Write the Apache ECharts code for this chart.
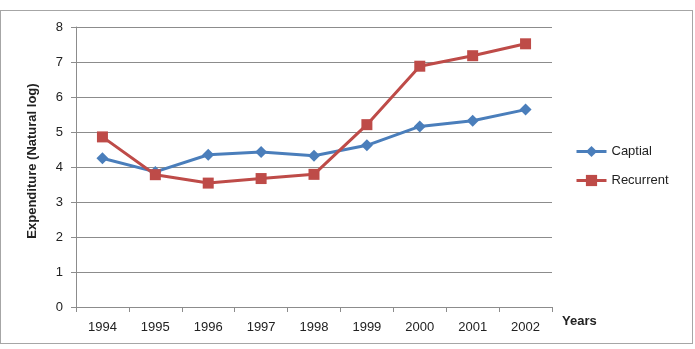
<!DOCTYPE html>
<html>
<head>
<meta charset="utf-8">
<script src="https://cdn.jsdelivr.net/npm/echarts@6/dist/echarts.min.js"></script>
<style>
  html, body { margin: 0; padding: 0; background: #fff; }
  #frame {
    position: absolute; left: 0; top: 10px; width: 693px; height: 334px;
    border: 1px solid #a6a6a6; box-sizing: border-box;
  }
  #chart { position: absolute; left: 0; top: 0; width: 695px; height: 349px; }
</style>
</head>
<body>
<div id="frame"></div>
<div id="chart"></div>
<script>
const years = ['1994', '1995', '1996', '1997', '1998', '1999', '2000', '2001', '2002'];
const capital = [4.25, 3.86, 4.35, 4.43, 4.32, 4.62, 5.16, 5.32, 5.64];
const recurrent = [4.86, 3.78, 3.54, 3.67, 3.79, 5.21, 6.88, 7.18, 7.52];

const FONT = '"Liberation Sans", "Open Sans", sans-serif';
const chart = echarts.init(document.getElementById('chart'), null, { renderer: 'canvas' });

chart.setOption({
  animation: false,
  textStyle: { fontFamily: FONT },
  grid: { left: 76, top: 27, width: 476, height: 280, containLabel: false },
  legend: {
    orient: 'vertical',
    left: 575,
    top: 145,
    padding: 0,
    itemWidth: 30,
    itemHeight: 14,
    itemGap: 16,
    lineStyle: { width: 3 },
    textStyle: { fontFamily: FONT, fontSize: 13, color: '#222' },
    data: ['Captial', 'Recurrent'],
  },
  xAxis: {
    type: 'category',
    data: years,
    boundaryGap: true,
    name: 'Years',
    nameLocation: 'end',
    nameGap: 10,
    nameTextStyle: {
      fontFamily: FONT, fontSize: 13, fontWeight: 'bold', color: '#222',
      verticalAlign: 'top', padding: [8, 0, 0, 0],
    },
    axisLine: { lineStyle: { color: '#8c8c8c' } },
    axisTick: { show: true, alignWithLabel: false, length: 5, lineStyle: { color: '#8c8c8c' } },
    axisLabel: { fontFamily: FONT, fontSize: 13, color: '#222', margin: 14 },
  },
  yAxis: {
    type: 'value',
    min: 0,
    max: 8,
    interval: 1,
    name: 'Expenditure (Natural log)',
    nameLocation: 'middle',
    nameGap: 37,
    nameTextStyle: {
      fontFamily: FONT, fontSize: 13, fontWeight: 'bold', color: '#222',
      padding: [0, 0, 0, 12],
    },
    axisLine: { show: true, lineStyle: { color: '#8c8c8c' } },
    axisTick: { show: true, length: 5, lineStyle: { color: '#8c8c8c' } },
    axisLabel: { fontFamily: FONT, fontSize: 13, color: '#222', margin: 13 },
    splitLine: { lineStyle: { color: '#8c8c8c', width: 1 } },
  },
  series: [
    {
      name: 'Captial',
      type: 'line',
      data: capital,
      symbol: 'diamond',
      symbolSize: 12,
      lineStyle: { color: '#4a7ebb', width: 3 },
      itemStyle: { color: '#4a7ebb' },
    },
    {
      name: 'Recurrent',
      type: 'line',
      data: recurrent,
      symbol: 'rect',
      symbolSize: 11,
      lineStyle: { color: '#be4b48', width: 3 },
      itemStyle: { color: '#be4b48' },
    },
  ],
});
</script>
</body>
</html>
